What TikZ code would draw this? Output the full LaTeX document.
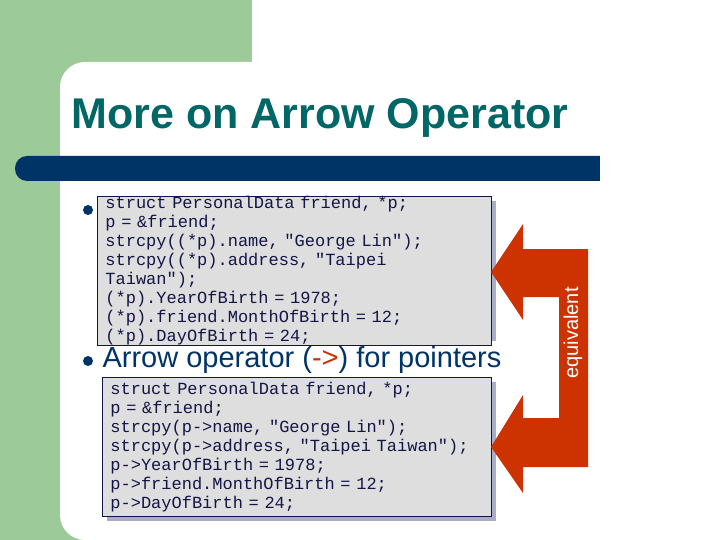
\documentclass[tikz,border=0pt]{standalone}
\usepackage{fontspec}
\setmainfont{Liberation Sans}
\setmonofont{Liberation Mono}
\definecolor{slidegreen}{RGB}{156,202,152}
\definecolor{titleteal}{RGB}{0,102,102}
\definecolor{barnavy}{RGB}{0,51,102}
\definecolor{codeink}{RGB}{20,20,70}
\definecolor{boxfill}{RGB}{222,222,222}
\definecolor{boxshadow}{RGB}{170,172,200}
\definecolor{arrowred}{RGB}{204,51,0}
\tikzset{
  codebox/.style={draw=codeink, fill=boxfill, line width=0.8pt, anchor=north west,
    inner xsep=8pt, inner ysep=0pt, align=left, text=codeink,
    font=\fontsize{17}{19}\selectfont\ttfamily},
  dot/.style={circle, fill=barnavy, inner sep=0pt, minimum size=10pt}
}
\begin{document}
\begin{tikzpicture}[x=1pt,y=-1pt]
        \useasboundingbox (0,0) rectangle (720,540);
        \fill[slidegreen] (0,0) rectangle (252,540);
        \fill[white, rounded corners=25pt] (60,540) -- (60,62) -- (720,62) -- (720,540) -- cycle;
        \node[font=\bfseries\fontsize{43}{48}\selectfont, text=titleteal, anchor=west] (title) at (68,118) {More on Arrow Operator};
        \fill[barnavy, rounded corners=12pt] (15,156) rectangle (640,181);
        \fill[white] (600,150) rectangle (720,190);
        % code boxes
        \fill[boxshadow] (102,201) rectangle (496,341);
        \node[codebox, text width=378pt, minimum height=140pt] (deref) at (97,196) {struct PersonalData friend, *p;\\
p = \&friend;\\
strcpy((*p).name, "George Lin");\\
strcpy((*p).address, "Taipei Taiwan");\\
(*p).YearOfBirth = 1978;\\
(*p).friend.MonthOfBirth = 12;\\
(*p).DayOfBirth = 24;};
        \fill[boxshadow] (107,382) rectangle (496,521);
        \node[codebox, text width=373pt, minimum height=139pt] (arrow) at (102,377) {struct PersonalData friend, *p;\\
p = \&friend;\\
strcpy(p->name, "George Lin");\\
strcpy(p->address, "Taipei Taiwan");\\
p->YearOfBirth = 1978;\\
p->friend.MonthOfBirth = 12;\\
p->DayOfBirth = 24;};
        \node[dot] (b1) at (88,210) {};
        \node[dot] (b2) at (88,361) {};
        \node[anchor=west, text=barnavy, font=\fontsize{29}{32}\selectfont] (ptr) at (99,360) {Arrow operator ({\color{arrowred}-\textgreater}) for pointers};
        % equivalent arrow
        \fill[arrowred] (491,272) -- (523,224) -- (523,249) -- (588,249) -- (588,467) -- (523,467)
          -- (523,493) -- (491,447) -- (523,395) -- (523,418) -- (559,418) -- (559,297)
          -- (523,297) -- (523,320) -- cycle;
        \node[rotate=90, text=white, font=\fontsize{20}{24}\selectfont] (equiv) at (573,333) {equivalent};
    \end{tikzpicture}
\end{document}
